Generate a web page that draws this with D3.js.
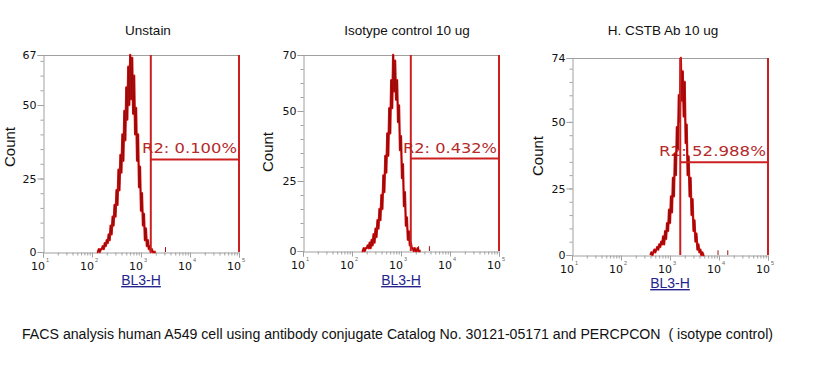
<!DOCTYPE html>
<html><head><meta charset="utf-8">
<script src="https://cdn.jsdelivr.net/npm/d3@7"></script>
<style>
html,body{margin:0;padding:0;background:#fff;}
svg{display:block;}
</style></head>
<body>
<svg id="chart" width="815" height="372"></svg>
<script>
// ---------------- DATA ----------------
const panelTitles = ["Unstain", "Isotype control 10 ug", "H. CSTB Ab 10 ug"];
const yMaxValues = [67, 70, 74];
const yMajorTicks = [[0, 25, 50, 67], [0, 25, 50, 70], [0, 25, 50, 74]];
const xDecades = [10, 100, 1000, 10000, 100000];
const xExponents = ["1", "2", "3", "4", "5"];
const gateLabels = ["R2: 0.100%", "R2: 0.432%", "R2: 52.988%"];
const gateLow = [1585, 1585, 1620];   // BL3-H gate start
const gateHigh = [100000, 100000, 100000];
const gateLevel = [31.5, 33, 34.8];   // count level of the gate bar
const xLabel = "BL3-H";
const yLabel = "Count";
const caption = "FACS analysis human A549 cell using antibody conjugate Catalog No. 30121-05171 and PERCPCON  ( isotype control)";

// histogram bins: log10(BL3-H) of first bin and bin width in log units
const binLog0 = [2.10, 2.20, 2.60];
const binStep = 0.02;
const histUnstain = [0,0,1,0,1,1,2,1,3,2,4,3,6,4,9,6,12,9,16,12,21,16,28,21,33,27,40,31,48,38,
  56,45,63,50,67,52,66,47,60,40,49,31,40,22,29,14,20,9,13,4,8,2,4,1,2,0,1,0,0,0,0];
const histIsotype = [0,0,1,0,1,1,2,1,3,1,4,2,6,3,8,5,11,8,15,11,20,15,27,21,34,28,42,34,51,42,
  61,51,70,57,68,54,61,46,52,36,41,26,31,16,21,9,12,4,7,2,3,1,1,0,1,0,0,1,0,0,0];
const histCSTB = [0,1,0,1,2,1,2,3,2,4,3,5,4,7,4,9,6,12,9,17,12,22,16,29,22,38,30,48,40,60,
  50,74,58,69,52,65,42,49,30,37,22,29,15,21,9,13,5,8,2,4,1,2,0,1,0,0];
const histograms = [histUnstain, histIsotype, histCSTB];
// isolated single events in the tails: [BL3-H, count]
const tailEvents = [[[3160, 1]], [[2290, 1], [3800, 1]], [[9550, 1], [15100, 1]]];

// ---------------- LAYOUT ----------------
const panels = [
  {left: 43, top: 55, bottom: 252, width: 196, titleX: 148, countX: 10, countY: 147, labelBase: 285},
  {left: 303, top: 55, bottom: 251, width: 196, titleX: 407, countX: 268, countY: 152, labelBase: 285},
  {left: 572, top: 58, bottom: 255, width: 196, titleX: 663, countX: 538, countY: 156, labelBase: 288}
];
const labelWidths = [95, 94, 107];

const svg = d3.select("#chart");
const axisGrey = "#a0a0a0";
const gateRed = "#cc2020";
const tickFont = "'DejaVu Sans', Verdana, sans-serif";
const sansFont = "'Liberation Sans', Arial, sans-serif";

panels.forEach((p, i) => {
  const x = d3.scaleLog().domain([10, 100000]).range([p.left, p.left + p.width]);
  const y = d3.scaleLinear().domain([0, yMaxValues[i]]).range([p.bottom, p.top]);
  const g = svg.append("g");

  // title
  g.append("text").attr("x", p.titleX).attr("y", 35)
    .attr("text-anchor", "middle")
    .style("font-family", sansFont)
    .style("font-size", "13.5px").attr("fill", "#111")
    .text(panelTitles[i]);

  // frame (top line)
  g.append("line").attr("x1", x(10)).attr("x2", x(100000))
    .attr("y1", y(yMaxValues[i]) + 0.5).attr("y2", y(yMaxValues[i]) + 0.5)
    .attr("stroke", axisGrey);

  // y axis minor + major
  const yMinor = d3.axisLeft(y).tickValues(d3.range(0, yMaxValues[i] + 0.1, 5)).tickSize(3).tickFormat("");
  const gyMinor = g.append("g").attr("transform", `translate(${p.left + 0.5},0)`).call(yMinor);
  gyMinor.select(".domain").remove();
  gyMinor.selectAll("line").attr("stroke", axisGrey);

  const yAxis = d3.axisLeft(y).tickValues(yMajorTicks[i]).tickSize(6).tickPadding(1).tickFormat(d3.format("d"));
  const gy = g.append("g").attr("transform", `translate(${p.left + 0.5},0)`).call(yAxis);
  gy.select(".domain").attr("stroke", axisGrey);
  gy.selectAll("line").attr("stroke", axisGrey);
  gy.selectAll("text").style("font-family", tickFont)
    .style("font-size", "11px").attr("fill", "#111").attr("dy", "0.36em");

  // x axis minor
  const minorVals = [];
  xDecades.slice(0, 4).forEach(d => { for (let k = 2; k <= 9; k++) minorVals.push(d * k); });
  const xMinor = d3.axisBottom(x).tickValues(minorVals).tickSize(3).tickFormat("");
  const gxMinor = g.append("g").attr("transform", `translate(0,${p.bottom + 0.5})`).call(xMinor);
  gxMinor.select(".domain").remove();
  gxMinor.selectAll("line").attr("stroke", axisGrey);

  const xAxis = d3.axisBottom(x).tickValues(xDecades).tickSize(5).tickFormat("");
  const gx = g.append("g").attr("transform", `translate(0,${p.bottom + 0.5})`).call(xAxis);
  gx.select(".domain").attr("stroke", axisGrey);
  gx.selectAll("line").attr("stroke", axisGrey);

  // decade labels 10^n
  xDecades.forEach((d, k) => {
    g.append("text").attr("x", x(d) + 2).attr("y", p.bottom + 17.5)
      .attr("text-anchor", "end")
      .style("font-family", tickFont)
      .style("font-size", "11px").attr("fill", "#111").text("10");
    g.append("text").attr("x", x(d) + 3).attr("y", p.bottom + 10)
      .style("font-family", sansFont)
      .style("font-size", "5.5px").attr("fill", "#666").text(xExponents[k]);
  });

  // axis titles
  g.append("text").attr("x", (x(10) + x(100000)) / 2).attr("y", p.labelBase)
    .attr("text-anchor", "middle")
    .style("font-family", sansFont)
    .style("font-size", "14px").style("text-decoration", "underline")
    .attr("fill", "#24248c").text(xLabel);
  g.append("text").attr("transform", `translate(${p.countX + 5},${p.countY}) rotate(-90)`)
    .attr("text-anchor", "middle")
    .style("font-family", sansFont)
    .style("font-size", "15px").attr("fill", "#111").text(yLabel);

  // gate label (beneath histogram)
  g.append("text").attr("x", x(gateHigh[i]) - 2).attr("y", y(gateLevel[i]) - 6)
    .attr("text-anchor", "end")
    .attr("textLength", labelWidths[i]).attr("lengthAdjust", "spacingAndGlyphs")
    .style("font-family", tickFont)
    .style("font-size", "13.5px").attr("fill", "#b52a2a").text(gateLabels[i]);

  // histogram: bright body + dark jagged outline
  const hist = histograms[i];
  const pts = hist.map((c, k) => [Math.pow(10, binLog0[i] + k * binStep), c]);
  const line = d3.line().x(d => x(d[0])).y(d => y(d[1]));
  g.append("path").datum(pts).attr("d", line)
    .attr("fill", "none").attr("stroke", "#e01010").attr("stroke-width", 2.3)
    .attr("stroke-linejoin", "round");
  g.append("path").datum(pts).attr("d", line)
    .attr("fill", "none").attr("stroke", "#8e0a0a").attr("stroke-width", 0.9)
    .attr("stroke-linejoin", "miter");
  g.selectAll(".ev").data(tailEvents[i]).enter().append("line")
    .attr("x1", d => x(d[0])).attr("x2", d => x(d[0]))
    .attr("y1", y(0)).attr("y2", d => y(d[1]) - 2)
    .attr("stroke", "#a01010").attr("stroke-width", 1);

  // gate
  g.append("line").attr("x1", x(gateLow[i])).attr("x2", x(gateLow[i]))
    .attr("y1", y(yMaxValues[i])).attr("y2", y(0))
    .attr("stroke", gateRed).attr("stroke-width", 2);
  g.append("line").attr("x1", x(gateHigh[i])).attr("x2", x(gateHigh[i]))
    .attr("y1", y(yMaxValues[i])).attr("y2", y(0))
    .attr("stroke", gateRed).attr("stroke-width", 2);
  g.append("line").attr("x1", x(gateLow[i])).attr("x2", x(gateHigh[i]))
    .attr("y1", y(gateLevel[i])).attr("y2", y(gateLevel[i]))
    .attr("stroke", gateRed).attr("stroke-width", 2);
});

// caption
svg.append("text").attr("x", 22).attr("y", 339)
  .attr("textLength", 751).attr("lengthAdjust", "spacingAndGlyphs")
  .style("white-space", "pre")
  .style("font-family", "'Liberation Sans Narrow', 'Liberation Sans', Arial, sans-serif")
  .style("font-size", "14px").attr("fill", "#111").text(caption);
</script>
</body></html>
